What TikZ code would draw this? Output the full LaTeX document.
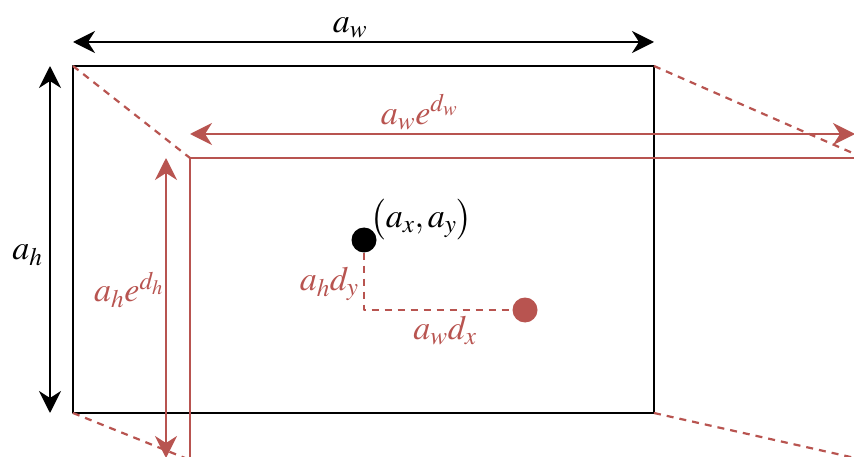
\documentclass[tikz,border=0pt]{standalone}
\usepackage{amsmath}
\usepackage{mathptmx}
\usepackage{tikz}
\usetikzlibrary{arrows.meta}
\usepackage{xcolor}
\definecolor{boxred}{HTML}{B85450}
\newcommand{\mlab}[1]{\scalebox{1.26}{$#1$}}

\begin{document}
\begin{tikzpicture}[x=1pt, y=-1pt, line join=round, font=\fontsize{27}{32}\selectfont,
 both/.style={line width=2.2pt, {Stealth[length=22pt,width=22pt,inset=7pt]}-{Stealth[length=22pt,width=22pt,inset=7pt]}},
 reddash/.style={boxred, line width=2.2pt, dash pattern=on 7pt off 6pt},
 dot/.style={circle, fill=black, inner sep=0pt, minimum size=25pt},
 reddot/.style={circle, fill=boxred, inner sep=0pt, minimum size=25pt}]
 \useasboundingbox (0,0) rectangle (854,457);
 \clip (0,0) rectangle (854,457);
 % Corners
 \coordinate (btl) at (73,66);
 \coordinate (btr) at (654,66);
 \coordinate (bbl) at (73,413);
 \coordinate (bbr) at (654,413);
 \coordinate (rtl) at (190,158);
 \coordinate (rtr) at (864,158);
 \coordinate (rbl) at (190,460);
 \coordinate (rbr) at (864,460);
 % Boxes
 \draw[line width=2.3pt] (btl) rectangle (bbr);
 \draw[boxred, line width=2.4pt] (rtl) rectangle (rbr);
 \draw[reddash] (btl) -- (rtl);
 \draw[reddash] (btr) -- (rtr);
 \draw[reddash] (bbl) -- (rbl);
 \draw[reddash] (bbr) -- (rbr);
 % Dimensions
 \coordinate (wl) at (73,42);
 \coordinate (wr) at (654,42);
 \coordinate (ht) at (50,66);
 \coordinate (hb) at (50,413);
 \draw[both] (wl) -- (wr) node[pos=0.477, above=0pt] (aw) {\mlab{a_w}};
 \draw[both] (ht) -- (hb) node[pos=0.545, left=3pt] (ah) {\mlab{a_h}};
 \coordinate (rwl) at (190,134);
 \coordinate (rwr) at (855,134);
 \coordinate (rht) at (166,158);
 \coordinate (rhb) at (166,458);
 \draw[both, boxred] (rwl) -- (rwr) node[pos=0.345, above=0pt] (awe) {\mlab{a_we^{d_w}}};
 \draw[both, boxred] (rht) -- (rhb) node[pos=0.44, left=-2pt] (ahe) {\mlab{a_he^{d_h}}};
 % Offsets
 \node[dot] (anc) at (364,240) {};
 \node[reddot] (pred) at (525,310) {};
 \node[anchor=south west, inner sep=0pt] (axy) at (370,240) {\mlab{\bigl(a_x,a_y\bigr)}};
 \draw[reddash] (anc) |- (pred);
 \node[boxred, anchor=east, inner sep=0pt] (ahd) at (359,284) {\mlab{a_hd_y}};
 \node[boxred, anchor=north, inner sep=0pt] (awd) at (445,316) {\mlab{a_wd_x}};
\end{tikzpicture}
\end{document}
